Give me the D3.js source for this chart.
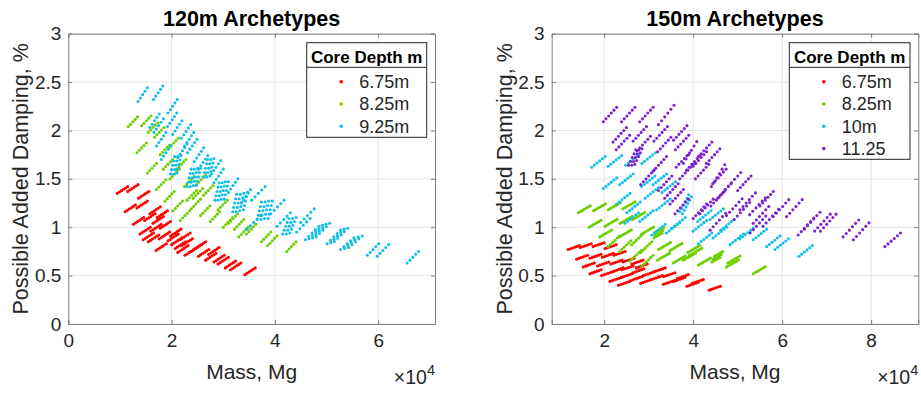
<!DOCTYPE html>
<html><head><meta charset="utf-8">
<script src="https://cdn.jsdelivr.net/npm/d3@7"></script>
<style>body{margin:0;background:#fff}svg{display:block;font-family:Arial,"Liberation Sans",sans-serif}</style>
</head><body><svg id="c" width="921" height="393"></svg>
<script>
// ---- data (mass in units of 1e4 Mg, damping in %) ; each segment = flat list x,y,x,y,...
const xTicksLeft = [0, 2, 4, 6];
const xTicksRight = [2, 4, 6, 8];
const yTicks = [0, 0.5, 1, 1.5, 2, 2.5, 3];
const legendLeft = ["6.75m", "8.25m", "9.25m"];
const legendRight = ["6.75m", "8.25m", "10m", "11.25"];
const titles = ["120m Archetypes", "150m Archetypes"];

const leftRed = [
[0.95,1.35,0.99,1.364,1.03,1.378,1.07,1.392,1.11,1.406,1.15,1.42],
[1.15,1.37,1.19,1.384,1.23,1.398,1.27,1.412,1.31,1.426,1.35,1.44],
[1.36,1.30,1.40,1.314,1.44,1.328,1.48,1.342,1.52,1.356,1.56,1.37],
[1.10,1.16,1.14,1.174,1.18,1.188,1.22,1.202,1.26,1.216,1.30,1.23],
[1.33,1.20,1.37,1.214,1.41,1.228,1.45,1.242,1.49,1.256,1.53,1.27],
[1.58,1.14,1.62,1.154,1.66,1.168,1.70,1.182,1.74,1.196,1.78,1.21],
[1.26,1.03,1.30,1.044,1.34,1.058,1.38,1.072,1.42,1.086,1.46,1.10],
[1.48,1.07,1.52,1.084,1.56,1.098,1.60,1.112,1.64,1.126,1.68,1.14],
[1.64,1.04,1.68,1.054,1.72,1.068,1.76,1.082,1.80,1.096,1.84,1.11],
[1.39,0.93,1.43,0.944,1.47,0.958,1.51,0.972,1.55,0.986,1.59,1.00],
[1.60,0.96,1.64,0.974,1.68,0.988,1.72,1.002,1.76,1.016,1.80,1.03],
[1.78,0.99,1.82,1.004,1.86,1.018,1.90,1.032,1.94,1.046,1.98,1.06],
[1.55,0.85,1.59,0.864,1.63,0.878,1.67,0.892,1.71,0.906,1.75,0.92],
[1.76,0.88,1.80,0.894,1.84,0.908,1.88,0.922,1.92,0.936,1.96,0.95],
[1.93,0.86,1.97,0.874,2.01,0.888,2.05,0.902,2.09,0.916,2.13,0.93],
[1.98,0.91,2.02,0.924,2.06,0.938,2.10,0.952,2.14,0.966,2.18,0.98],
[1.70,0.76,1.74,0.774,1.78,0.788,1.82,0.802,1.86,0.816,1.90,0.83],
[2.07,0.78,2.11,0.794,2.15,0.808,2.19,0.822,2.23,0.836,2.27,0.85],
[2.20,0.81,2.24,0.824,2.28,0.838,2.32,0.852,2.36,0.866,2.40,0.88],
[2.26,0.71,2.30,0.724,2.34,0.738,2.38,0.752,2.42,0.766,2.46,0.78],
[2.38,0.75,2.42,0.764,2.46,0.778,2.50,0.792,2.54,0.806,2.58,0.82],
[2.52,0.70,2.56,0.714,2.60,0.728,2.64,0.742,2.68,0.756,2.72,0.77],
[2.66,0.66,2.70,0.674,2.74,0.688,2.78,0.702,2.82,0.716,2.86,0.73],
[2.82,0.64,2.86,0.654,2.90,0.668,2.94,0.682,2.98,0.696,3.02,0.71],
[3.04,0.58,3.08,0.594,3.12,0.608,3.16,0.622,3.20,0.636,3.24,0.65],
[3.14,0.56,3.18,0.574,3.22,0.588,3.26,0.602,3.30,0.616,3.34,0.63],
[3.42,0.51,3.46,0.524,3.50,0.538,3.54,0.552,3.58,0.566,3.62,0.58],
[1.72,1.10,1.76,1.114,1.80,1.128,1.84,1.142,1.88,1.156,1.92,1.17],
[2.00,0.82,2.04,0.834,2.08,0.848,2.12,0.862,2.16,0.876,2.20,0.89],
[2.12,0.74,2.16,0.754,2.20,0.768,2.24,0.782,2.28,0.796,2.32,0.81],
[2.46,0.78,2.50,0.794,2.54,0.808,2.58,0.822,2.62,0.836,2.66,0.85],
[2.72,0.72,2.76,0.734,2.80,0.748,2.84,0.762,2.88,0.776,2.92,0.79],
[2.90,0.62,2.94,0.634,2.98,0.648,3.02,0.662,3.06,0.676,3.10,0.69],
[2.16,0.87,2.20,0.884,2.24,0.898,2.28,0.912,2.32,0.926,2.36,0.94],
[1.45,0.87,1.49,0.884,1.53,0.898,1.57,0.912,1.61,0.926,1.65,0.94]
];

const leftGreen = [
[1.16,2.04,1.205,2.065,1.25,2.09,1.295,2.115,1.34,2.14],
[1.42,2.05,1.465,2.075,1.51,2.1,1.555,2.125,1.6,2.15],
[1.33,1.77,1.375,1.795,1.42,1.82,1.465,1.845,1.51,1.87],
[1.53,1.56,1.575,1.585,1.62,1.61,1.665,1.635,1.71,1.66],
[1.71,1.39,1.755,1.415,1.8,1.44,1.845,1.465,1.89,1.49],
[1.67,1.93,1.715,1.955,1.76,1.98,1.805,2.005,1.85,2.03],
[1.78,1.75,1.825,1.775,1.87,1.8,1.915,1.825,1.96,1.85],
[1.87,1.27,1.915,1.295,1.96,1.32,2.005,1.345,2.05,1.37],
[1.97,1.5,2.015,1.525,2.06,1.55,2.105,1.575,2.15,1.6],
[2.03,1.17,2.075,1.195,2.12,1.22,2.165,1.245,2.21,1.27],
[2.17,1.07,2.215,1.095,2.26,1.12,2.305,1.145,2.35,1.17],
[2.1,1.6,2.145,1.625,2.19,1.65,2.235,1.675,2.28,1.7],
[2.25,1.42,2.295,1.445,2.34,1.47,2.385,1.495,2.43,1.52],
[2.42,1.3,2.465,1.325,2.51,1.35,2.555,1.375,2.6,1.4],
[2.38,1.19,2.425,1.215,2.47,1.24,2.515,1.265,2.56,1.29],
[2.56,1.12,2.605,1.145,2.65,1.17,2.695,1.195,2.74,1.22],
[2.75,1.06,2.795,1.085,2.84,1.11,2.885,1.135,2.93,1.16],
[2.62,1.33,2.665,1.355,2.71,1.38,2.755,1.405,2.8,1.43],
[2.9,1.18,2.945,1.205,2.99,1.23,3.035,1.255,3.08,1.28],
[3,1,3.045,1.025,3.09,1.05,3.135,1.075,3.18,1.1],
[3.1,1.04,3.145,1.065,3.19,1.09,3.235,1.115,3.28,1.14],
[3.22,0.98,3.265,1.005,3.31,1.03,3.355,1.055,3.4,1.08],
[3.45,0.93,3.495,0.955,3.54,0.98,3.585,1.005,3.63,1.03],
[3.74,0.85,3.785,0.875,3.83,0.9,3.875,0.925,3.92,0.95],
[3.86,0.81,3.905,0.835,3.95,0.86,3.995,0.885,4.04,0.91],
[4.23,0.75,4.275,0.775,4.32,0.8,4.365,0.825,4.41,0.85],
[1.55,1.98,1.595,2.005,1.64,2.03,1.685,2.055,1.73,2.08],
[1.84,1.6,1.885,1.625,1.93,1.65,1.975,1.675,2.02,1.7],
[2.3,1.28,2.345,1.305,2.39,1.33,2.435,1.355,2.48,1.38],
[3.3,0.9,3.345,0.925,3.39,0.95,3.435,0.975,3.48,1],
[2.48,1.44,2.525,1.465,2.57,1.49,2.615,1.515,2.66,1.54],
[1.95,1.82,1.995,1.845,2.04,1.87,2.085,1.895,2.13,1.92]
];

const leftCyan = [
[1.35,2.3,1.395,2.335,1.44,2.37,1.485,2.405,1.53,2.44],
[1.65,2.32,1.695,2.355,1.74,2.39,1.785,2.425,1.83,2.46],
[1.58,2.03,1.625,2.065,1.67,2.1,1.715,2.135,1.76,2.17],
[1.66,1.98,1.705,2.015,1.75,2.05,1.795,2.085,1.84,2.12],
[1.93,2.18,1.975,2.215,2.02,2.25,2.065,2.285,2.11,2.32],
[1.92,2.04,1.965,2.075,2.01,2.11,2.055,2.145,2.1,2.18],
[2.02,1.96,2.065,1.995,2.11,2.03,2.155,2.065,2.2,2.1],
[1.71,1.84,1.755,1.875,1.8,1.91,1.845,1.945,1.89,1.98],
[2.19,1.92,2.235,1.955,2.28,1.99,2.325,2.025,2.37,2.06],
[2.25,1.84,2.295,1.875,2.34,1.91,2.385,1.945,2.43,1.98],
[2.31,1.77,2.355,1.805,2.4,1.84,2.445,1.875,2.49,1.91],
[1.8,1.7,1.845,1.735,1.89,1.77,1.935,1.805,1.98,1.84],
[2.44,1.68,2.485,1.715,2.53,1.75,2.575,1.785,2.62,1.82],
[2.52,1.6,2.565,1.635,2.61,1.67,2.655,1.705,2.7,1.74],
[2.77,1.55,2.815,1.585,2.86,1.62,2.905,1.655,2.95,1.69],
[2.82,1.46,2.865,1.495,2.91,1.53,2.955,1.565,3,1.6],
[3.1,1.36,3.145,1.395,3.19,1.43,3.235,1.465,3.28,1.5],
[3.35,1.25,3.395,1.285,3.44,1.32,3.485,1.355,3.53,1.39],
[2.12,1.72,2.165,1.755,2.21,1.79,2.255,1.825,2.3,1.86],
[1.98,1.55,2,1.595,2.02,1.64,2.04,1.685,2.06,1.73],
[2.04,1.55,2.06,1.595,2.08,1.64,2.1,1.685,2.12,1.73],
[2.1,1.56,2.12,1.605,2.14,1.65,2.16,1.695,2.18,1.74],
[2.3,1.42,2.32,1.465,2.34,1.51,2.36,1.555,2.38,1.6],
[2.36,1.42,2.38,1.465,2.4,1.51,2.42,1.555,2.44,1.6],
[2.42,1.43,2.44,1.475,2.46,1.52,2.48,1.565,2.5,1.61],
[2.48,1.43,2.5,1.475,2.52,1.52,2.54,1.565,2.56,1.61],
[2.62,1.52,2.64,1.565,2.66,1.61,2.68,1.655,2.7,1.7],
[2.68,1.52,2.7,1.565,2.72,1.61,2.74,1.655,2.76,1.7],
[2.74,1.53,2.76,1.575,2.78,1.62,2.8,1.665,2.82,1.71],
[2.84,1.28,2.86,1.325,2.88,1.37,2.9,1.415,2.92,1.46],
[2.9,1.28,2.92,1.325,2.94,1.37,2.96,1.415,2.98,1.46],
[2.96,1.29,2.98,1.335,3,1.38,3.02,1.425,3.04,1.47],
[3.02,1.29,3.04,1.335,3.06,1.38,3.08,1.425,3.1,1.47],
[3.18,1.16,3.2,1.205,3.22,1.25,3.24,1.295,3.26,1.34],
[3.25,1.16,3.27,1.205,3.29,1.25,3.31,1.295,3.33,1.34],
[3.32,1.17,3.34,1.215,3.36,1.26,3.38,1.305,3.4,1.35],
[3.39,1.18,3.41,1.225,3.43,1.27,3.45,1.315,3.47,1.36],
[3.66,1.08,3.68,1.125,3.7,1.17,3.72,1.215,3.74,1.26],
[3.73,1.08,3.75,1.125,3.77,1.17,3.79,1.215,3.81,1.26],
[3.8,1.09,3.82,1.135,3.84,1.18,3.86,1.225,3.88,1.27],
[3.87,1.09,3.89,1.135,3.91,1.18,3.93,1.225,3.95,1.27],
[4.15,0.93,4.18,0.97,4.21,1.01,4.24,1.05,4.27,1.09],
[4.22,0.93,4.25,0.97,4.28,1.01,4.31,1.05,4.34,1.09],
[4.29,0.94,4.32,0.98,4.35,1.02,4.38,1.06,4.41,1.1],
[3.46,0.98,3.525,1.015,3.59,1.05,3.655,1.085,3.72,1.12],
[4.04,1.01,4.105,1.045,4.17,1.08,4.235,1.115,4.3,1.15],
[4.42,0.95,4.485,0.985,4.55,1.02,4.615,1.055,4.68,1.09],
[4.59,0.87,4.655,0.905,4.72,0.94,4.785,0.975,4.85,1.01],
[4.66,0.88,4.725,0.915,4.79,0.95,4.855,0.985,4.92,1.02],
[4.73,0.89,4.795,0.925,4.86,0.96,4.925,0.995,4.99,1.03],
[4.8,0.9,4.865,0.935,4.93,0.97,4.995,1.005,5.06,1.04],
[5.01,0.83,5.075,0.865,5.14,0.9,5.205,0.935,5.27,0.97],
[5.08,0.84,5.145,0.875,5.21,0.91,5.275,0.945,5.34,0.98],
[5.15,0.85,5.215,0.885,5.28,0.92,5.345,0.955,5.41,0.99],
[5.27,0.77,5.335,0.8,5.4,0.83,5.465,0.86,5.53,0.89],
[5.35,0.78,5.415,0.81,5.48,0.84,5.545,0.87,5.61,0.9],
[5.43,0.79,5.495,0.82,5.56,0.85,5.625,0.88,5.69,0.91],
[5.79,0.71,5.845,0.74,5.9,0.77,5.955,0.8,6.01,0.83],
[5.98,0.7,6.035,0.73,6.09,0.76,6.145,0.79,6.2,0.82],
[6.56,0.63,6.615,0.66,6.67,0.69,6.725,0.72,6.78,0.75],
[3.55,1.28,3.615,1.315,3.68,1.35,3.745,1.385,3.81,1.42],
[3.92,1.14,3.985,1.175,4.05,1.21,4.115,1.245,4.18,1.28],
[4.5,1.05,4.565,1.085,4.63,1.12,4.695,1.155,4.76,1.19]
];

const rightRed = [
[1.19,0.77,1.24,0.778,1.29,0.786,1.34,0.794,1.39,0.802,1.44,0.81],
[1.46,0.79,1.51,0.798,1.56,0.806,1.61,0.814,1.66,0.822,1.71,0.83],
[1.75,0.8,1.8,0.808,1.85,0.816,1.9,0.824,1.95,0.832,2,0.84],
[2.02,0.78,2.07,0.788,2.12,0.796,2.17,0.804,2.22,0.812,2.27,0.82],
[1.38,0.67,1.43,0.678,1.48,0.686,1.53,0.694,1.58,0.702,1.63,0.71],
[1.68,0.68,1.73,0.688,1.78,0.696,1.83,0.704,1.88,0.712,1.93,0.72],
[1.96,0.69,2.01,0.698,2.06,0.706,2.11,0.714,2.16,0.722,2.21,0.73],
[2.22,0.71,2.27,0.718,2.32,0.726,2.37,0.734,2.42,0.742,2.47,0.75],
[1.53,0.59,1.58,0.598,1.63,0.606,1.68,0.614,1.73,0.622,1.78,0.63],
[1.85,0.6,1.9,0.608,1.95,0.616,2,0.624,2.05,0.632,2.1,0.64],
[2.15,0.62,2.2,0.628,2.25,0.636,2.3,0.644,2.35,0.652,2.4,0.66],
[2.42,0.64,2.47,0.648,2.52,0.656,2.57,0.664,2.62,0.672,2.67,0.68],
[1.68,0.52,1.73,0.528,1.78,0.536,1.83,0.544,1.88,0.552,1.93,0.56],
[1.94,0.5,1.99,0.508,2.04,0.516,2.09,0.524,2.14,0.532,2.19,0.54],
[2.18,0.54,2.23,0.548,2.28,0.556,2.33,0.564,2.38,0.572,2.43,0.58],
[2.4,0.56,2.45,0.568,2.5,0.576,2.55,0.584,2.6,0.592,2.65,0.6],
[2.13,0.44,2.18,0.448,2.23,0.456,2.28,0.464,2.33,0.472,2.38,0.48],
[2.38,0.48,2.43,0.488,2.48,0.496,2.53,0.504,2.58,0.512,2.63,0.52],
[2.64,0.53,2.69,0.538,2.74,0.546,2.79,0.554,2.84,0.562,2.89,0.57],
[2.6,0.45,2.65,0.458,2.7,0.466,2.75,0.474,2.8,0.482,2.85,0.49],
[2.32,0.4,2.37,0.408,2.42,0.416,2.47,0.424,2.52,0.432,2.57,0.44],
[2.82,0.42,2.87,0.428,2.92,0.436,2.97,0.444,3.02,0.452,3.07,0.46],
[2.88,0.5,2.93,0.508,2.98,0.516,3.03,0.524,3.08,0.532,3.13,0.54],
[3.06,0.46,3.11,0.468,3.16,0.476,3.21,0.484,3.26,0.492,3.31,0.5],
[3.12,0.54,3.17,0.548,3.22,0.556,3.27,0.564,3.32,0.572,3.37,0.58],
[3.33,0.41,3.38,0.418,3.43,0.426,3.48,0.434,3.53,0.442,3.58,0.45],
[3.34,0.49,3.39,0.498,3.44,0.506,3.49,0.514,3.54,0.522,3.59,0.53],
[3.56,0.44,3.61,0.448,3.66,0.456,3.71,0.464,3.76,0.472,3.81,0.48],
[3.64,0.47,3.69,0.478,3.74,0.486,3.79,0.494,3.84,0.502,3.89,0.51],
[3.86,0.39,3.91,0.398,3.96,0.406,4.01,0.414,4.06,0.422,4.11,0.43],
[3.98,0.42,4.03,0.428,4.08,0.436,4.13,0.444,4.18,0.452,4.23,0.46],
[4.36,0.35,4.41,0.358,4.46,0.366,4.51,0.374,4.56,0.382,4.61,0.39],
[2.62,0.62,2.67,0.628,2.72,0.636,2.77,0.644,2.82,0.652,2.87,0.66],
[2.72,0.58,2.77,0.588,2.82,0.596,2.87,0.604,2.92,0.612,2.97,0.62]
];

const rightGreen = [
[1.42,1.15,1.465,1.162,1.51,1.174,1.555,1.186,1.6,1.198,1.645,1.21,1.69,1.222],
[1.76,1.17,1.805,1.182,1.85,1.194,1.895,1.206,1.94,1.218,1.985,1.23,2.03,1.242],
[2.09,1.18,2.135,1.192,2.18,1.204,2.225,1.216,2.27,1.228,2.315,1.24,2.36,1.252],
[2.42,1.19,2.465,1.202,2.51,1.214,2.555,1.226,2.6,1.238,2.645,1.25,2.69,1.262],
[1.66,1,1.705,1.012,1.75,1.024,1.795,1.036,1.84,1.048,1.885,1.06,1.93,1.072],
[2.02,1.01,2.065,1.022,2.11,1.034,2.155,1.046,2.2,1.058,2.245,1.07,2.29,1.082],
[2.36,1.04,2.405,1.052,2.45,1.064,2.495,1.076,2.54,1.088,2.585,1.1,2.63,1.112],
[2.64,1.08,2.685,1.092,2.73,1.104,2.775,1.116,2.82,1.128,2.865,1.14,2.91,1.152],
[1.9,0.9,1.945,0.912,1.99,0.924,2.035,0.936,2.08,0.948,2.125,0.96,2.17,0.972],
[2.34,0.9,2.385,0.912,2.43,0.924,2.475,0.936,2.52,0.948,2.565,0.96,2.61,0.972],
[2.84,0.93,2.885,0.942,2.93,0.954,2.975,0.966,3.02,0.978,3.065,0.99,3.11,1.002],
[3.12,0.89,3.165,0.902,3.21,0.914,3.255,0.926,3.3,0.938],
[3.14,0.92,3.185,0.932,3.23,0.944,3.275,0.956,3.32,0.968],
[3.16,0.95,3.205,0.962,3.25,0.974,3.295,0.986,3.34,0.998],
[2.09,0.8,2.14,0.822,2.19,0.844,2.24,0.866,2.29,0.888,2.34,0.91],
[2.35,0.75,2.4,0.772,2.45,0.794,2.5,0.816,2.55,0.838,2.6,0.86],
[2.62,0.82,2.67,0.842,2.72,0.864,2.77,0.886,2.82,0.908,2.87,0.93],
[2.58,0.65,2.63,0.672,2.68,0.694,2.73,0.716,2.78,0.738,2.83,0.76],
[2.82,0.74,2.87,0.762,2.92,0.784,2.97,0.806,3.02,0.828,3.07,0.85],
[2.85,0.6,2.9,0.622,2.95,0.644,3,0.666,3.05,0.688,3.1,0.71],
[3.2,0.66,3.245,0.672,3.29,0.684,3.335,0.696,3.38,0.708,3.425,0.72,3.47,0.732],
[3.48,0.76,3.525,0.772,3.57,0.784,3.615,0.796,3.66,0.808,3.705,0.82,3.75,0.832],
[3.22,0.77,3.265,0.782,3.31,0.794,3.355,0.806,3.4,0.818,3.445,0.83,3.49,0.842],
[3.78,0.66,3.825,0.672,3.87,0.684,3.915,0.696,3.96,0.708,4.005,0.72,4.05,0.732],
[3.88,0.74,3.925,0.752,3.97,0.764,4.015,0.776,4.06,0.788,4.105,0.8,4.15,0.812],
[3.92,0.71,3.965,0.722,4.01,0.734,4.055,0.746,4.1,0.758,4.145,0.77,4.19,0.782],
[4.12,0.61,4.165,0.622,4.21,0.634,4.255,0.646,4.3,0.658,4.345,0.67,4.39,0.682],
[4.42,0.64,4.465,0.652,4.51,0.664,4.555,0.676,4.6,0.688],
[4.45,0.67,4.495,0.682,4.54,0.694,4.585,0.706,4.63,0.718],
[4.48,0.7,4.525,0.712,4.57,0.724,4.615,0.736,4.66,0.748],
[4.75,0.59,4.795,0.602,4.84,0.614,4.885,0.626,4.93,0.638,4.975,0.65,5.02,0.662],
[4.78,0.63,4.825,0.642,4.87,0.654,4.915,0.666,4.96,0.678,5.005,0.69,5.05,0.702],
[5.35,0.52,5.395,0.532,5.44,0.544,5.485,0.556,5.53,0.568,5.575,0.58,5.62,0.592],
[3.55,0.63,3.595,0.642,3.64,0.654,3.685,0.666,3.73,0.678,3.775,0.69,3.82,0.702]
];

const rightCyan = [
[1.72,1.62,1.78,1.642,1.84,1.664,1.9,1.686,1.96,1.708,2.02,1.73],
[2.09,1.63,2.15,1.652,2.21,1.674,2.27,1.696,2.33,1.718,2.39,1.74],
[2.48,1.64,2.54,1.662,2.6,1.684,2.66,1.706,2.72,1.728,2.78,1.75],
[2.85,1.66,2.91,1.682,2.97,1.704,3.03,1.726,3.09,1.748,3.15,1.77],
[1.98,1.4,2.04,1.422,2.1,1.444,2.16,1.466,2.22,1.488,2.28,1.51],
[2.35,1.44,2.41,1.462,2.47,1.484,2.53,1.506,2.59,1.528,2.65,1.55],
[2.84,1.42,2.9,1.442,2.96,1.464,3.02,1.486,3.08,1.508,3.14,1.53],
[2.28,1.24,2.34,1.262,2.4,1.284,2.46,1.306,2.52,1.328,2.58,1.35],
[2.51,1.15,2.57,1.172,2.63,1.194,2.69,1.216,2.75,1.238,2.81,1.26],
[2.47,1.04,2.53,1.062,2.59,1.084,2.65,1.106,2.71,1.128,2.77,1.15],
[2.8,1.06,2.86,1.082,2.92,1.104,2.98,1.126,3.04,1.148,3.1,1.17],
[2.92,1.3,2.98,1.322,3.04,1.344,3.1,1.366,3.16,1.388,3.22,1.41],
[3.1,1.44,3.16,1.462,3.22,1.484,3.28,1.506,3.34,1.528,3.4,1.55],
[3.07,0.92,3.13,0.942,3.19,0.964,3.25,0.986,3.31,1.008,3.37,1.03],
[3.18,1.18,3.24,1.202,3.3,1.224,3.36,1.246,3.42,1.268,3.48,1.29],
[3.4,0.94,3.46,0.962,3.52,0.984,3.58,1.006,3.64,1.028,3.7,1.05],
[3.52,0.99,3.58,1.012,3.64,1.034,3.7,1.056,3.76,1.078,3.82,1.1],
[3.7,1.16,3.74,1.195,3.78,1.23,3.82,1.265,3.86,1.3,3.9,1.335],
[3.76,1.14,3.8,1.175,3.84,1.21,3.88,1.245,3.92,1.28,3.96,1.315],
[4,0.96,4.06,0.982,4.12,1.004,4.18,1.026,4.24,1.048,4.3,1.07],
[4.1,1.06,4.16,1.082,4.22,1.104,4.28,1.126,4.34,1.148,4.4,1.17],
[4.12,0.83,4.18,0.852,4.24,0.874,4.3,0.896,4.36,0.918,4.42,0.94],
[4.45,0.89,4.51,0.912,4.57,0.934,4.63,0.956,4.69,0.978,4.75,1],
[4.62,0.97,4.68,0.992,4.74,1.014,4.8,1.036,4.86,1.058,4.92,1.08],
[4.83,0.82,4.89,0.842,4.95,0.864,5.01,0.886,5.07,0.908,5.13,0.93],
[5.05,0.88,5.11,0.902,5.17,0.924,5.23,0.946,5.29,0.968,5.35,0.99],
[5.35,0.87,5.41,0.892,5.47,0.914,5.53,0.936,5.59,0.958,5.65,0.98],
[5.65,0.8,5.71,0.822,5.77,0.844,5.83,0.866,5.89,0.888,5.95,0.91],
[5.84,0.77,5.9,0.792,5.96,0.814,6.02,0.836,6.08,0.858,6.14,0.88],
[6.38,0.7,6.44,0.722,6.5,0.744,6.56,0.766,6.62,0.788,6.68,0.81],
[3.3,1.36,3.36,1.382,3.42,1.404,3.48,1.426,3.54,1.448,3.6,1.47],
[4.38,1.08,4.44,1.102,4.5,1.124,4.56,1.146,4.62,1.168,4.68,1.19]
];

const rightPurple = [
[1.98,2.09,2.04,2.12,2.1,2.15,2.16,2.18,2.22,2.21,2.28,2.24],
[2.39,2.09,2.45,2.12,2.51,2.15,2.57,2.18,2.63,2.21,2.69,2.24],
[2.8,2.09,2.86,2.12,2.92,2.15,2.98,2.18,3.04,2.21,3.1,2.24],
[3.22,2.06,3.29,2.1,3.36,2.14,3.43,2.18,3.5,2.22,3.57,2.26],
[2.2,1.88,2.26,1.91,2.32,1.94,2.38,1.97,2.44,2,2.5,2.03],
[2.27,1.8,2.33,1.83,2.39,1.86,2.45,1.89,2.51,1.92,2.57,1.95],
[2.65,1.89,2.71,1.92,2.77,1.95,2.83,1.98,2.89,2.01,2.95,2.04],
[2.74,1.79,2.8,1.82,2.86,1.85,2.92,1.88,2.98,1.91,3.04,1.94],
[3.12,1.89,3.18,1.92,3.24,1.95,3.3,1.98,3.36,2.01,3.42,2.04],
[3.2,1.78,3.26,1.81,3.32,1.84,3.38,1.87,3.44,1.9,3.5,1.93],
[3.56,1.9,3.62,1.93,3.68,1.96,3.74,1.99,3.8,2.02,3.86,2.05],
[3.6,1.8,3.66,1.83,3.72,1.86,3.78,1.89,3.84,1.92,3.9,1.95],
[2.55,1.64,2.59,1.68,2.63,1.72,2.67,1.76,2.71,1.8],
[2.62,1.64,2.66,1.68,2.7,1.72,2.74,1.76,2.78,1.8],
[2.69,1.65,2.73,1.69,2.77,1.73,2.81,1.77,2.85,1.81],
[2.82,1.44,2.88,1.47,2.94,1.5,3,1.53,3.06,1.56,3.12,1.59],
[3.1,1.58,3.16,1.61,3.22,1.64,3.28,1.67,3.34,1.7,3.4,1.73],
[3.22,1.38,3.28,1.41,3.34,1.44,3.4,1.47,3.46,1.5,3.52,1.53],
[3.48,1.24,3.54,1.27,3.6,1.3,3.66,1.33,3.72,1.36,3.78,1.39],
[3.62,1.62,3.68,1.65,3.74,1.68,3.8,1.71,3.86,1.74,3.92,1.77],
[3.7,1.5,3.76,1.53,3.82,1.56,3.88,1.59,3.94,1.62,4,1.65],
[4,1.63,4.06,1.66,4.12,1.69,4.18,1.72,4.24,1.75,4.3,1.78],
[4.12,1.73,4.18,1.76,4.24,1.79,4.3,1.82,4.36,1.85,4.42,1.88],
[4.05,1.5,4.11,1.53,4.17,1.56,4.23,1.59,4.29,1.62,4.35,1.65],
[4.44,1.45,4.5,1.48,4.56,1.51,4.62,1.54,4.68,1.57,4.74,1.6],
[4.72,1.39,4.79,1.425,4.86,1.46,4.93,1.495,5,1.53,5.07,1.565],
[3.59,1.14,3.65,1.17,3.71,1.2,3.77,1.23,3.83,1.26,3.89,1.29],
[4,1.09,4.06,1.12,4.12,1.15,4.18,1.18,4.24,1.21,4.3,1.24],
[4.38,0.97,4.45,1.005,4.52,1.04,4.59,1.075,4.66,1.11,4.73,1.145],
[4.15,1.14,4.21,1.17,4.27,1.2,4.33,1.23,4.39,1.26,4.45,1.29],
[4.75,1.12,4.82,1.155,4.89,1.19,4.96,1.225,5.03,1.26,5.1,1.295],
[4.92,1.08,4.99,1.115,5.06,1.15,5.13,1.185,5.2,1.22,5.27,1.255],
[5.05,1.18,5.12,1.215,5.19,1.25,5.26,1.285,5.33,1.32,5.4,1.355],
[5.27,1.13,5.34,1.165,5.41,1.2,5.48,1.235,5.55,1.27,5.62,1.305],
[5.35,1.04,5.42,1.075,5.49,1.11,5.56,1.145,5.63,1.18,5.7,1.215],
[5.28,0.94,5.35,0.975,5.42,1.01,5.49,1.045,5.56,1.08,5.63,1.115],
[5.57,1.01,5.64,1.045,5.71,1.08,5.78,1.115,5.85,1.15,5.92,1.185],
[5.8,1.11,5.87,1.145,5.94,1.18,6.01,1.215,6.08,1.25,6.15,1.285],
[6.1,1.11,6.17,1.145,6.24,1.18,6.31,1.215,6.38,1.25,6.45,1.285],
[6.36,0.92,6.43,0.955,6.5,0.99,6.57,1.025,6.64,1.06,6.71,1.095],
[6.5,0.98,6.57,1.015,6.64,1.05,6.71,1.085,6.78,1.12,6.85,1.155],
[6.73,0.96,6.8,0.995,6.87,1.03,6.94,1.065,7.01,1.1,7.08,1.135],
[6.86,0.96,6.93,0.995,7,1.03,7.07,1.065,7.14,1.1,7.21,1.135],
[7.37,0.9,7.44,0.935,7.51,0.97,7.58,1.005,7.65,1.04,7.72,1.075],
[7.6,0.87,7.67,0.905,7.74,0.94,7.81,0.975,7.88,1.01,7.95,1.045],
[8.31,0.8,8.38,0.828,8.45,0.856,8.52,0.884,8.59,0.912,8.66,0.94],
[3.85,1.59,3.91,1.62,3.97,1.65,4.03,1.68,4.09,1.71,4.15,1.74],
[4.3,1.66,4.36,1.69,4.42,1.72,4.48,1.75,4.54,1.78,4.6,1.81],
[4.41,1.42,4.47,1.465,4.53,1.51,4.59,1.555,4.65,1.6,4.71,1.645],
[3.78,1.66,3.84,1.705,3.9,1.75,3.96,1.795,4.02,1.84,4.08,1.885],
[3.36,1.3,3.42,1.33,3.48,1.36,3.54,1.39,3.6,1.42,3.66,1.45],
[4.4,1.22,4.46,1.25,4.52,1.28,4.58,1.31,4.64,1.34,4.7,1.37],
[4.55,1.3,4.61,1.33,4.67,1.36,4.73,1.39,4.79,1.42,4.85,1.45],
[5,1.38,5.06,1.41,5.12,1.44,5.18,1.47,5.24,1.5,5.3,1.53],
[5.5,1.22,5.56,1.25,5.62,1.28,5.68,1.31,5.74,1.34,5.8,1.37]
];

// ---- colours
const colors = {red:"#ff0000", green:"#6dcf00", cyan:"#12bfe9", purple:"#7b22d2"};

const svg = d3.select("#c");
const txt = "#262626";
const FONT = "Arial, 'Liberation Sans', sans-serif";
const yScale = d3.scaleLinear().domain([0, 3]).range([324, 33.7]);

function toPts(segs){ const out=[]; segs.forEach(s=>{ for(let i=0;i<s.length;i+=2) out.push([s[i], s[i+1]]); }); return out; }

function panel(cfg){
  const x = cfg.x, g = svg.append("g");
  const [L,R] = x.range(), T = 33.7, B = 324;
  // grid
  g.selectAll(".gx").data(cfg.xTicks).join("line").attr("x1",d=>x(d)).attr("x2",d=>x(d)).attr("y1",T).attr("y2",B).attr("stroke","#e3e3e3").attr("stroke-width",1);
  g.selectAll(".gy").data(yTicks).join("line").attr("x1",L).attr("x2",R).attr("y1",d=>yScale(d)).attr("y2",d=>yScale(d)).attr("stroke","#e3e3e3").attr("stroke-width",1);
  // points
  cfg.series.forEach(s=>{
    g.append("g").selectAll("circle").data(toPts(s.data)).join("circle")
      .attr("cx",d=>x(d[0])).attr("cy",d=>yScale(d[1])).attr("r",1.55).attr("fill",s.color);
  });
  // axes (box with inward ticks)
  const axB = d3.axisBottom(x).tickValues(cfg.xTicks).tickSize(-4).tickPadding(10).tickFormat(d3.format("d"));
  const axT = d3.axisTop(x).tickValues(cfg.xTicks).tickSize(-4).tickFormat("");
  const axL = d3.axisLeft(yScale).tickValues(yTicks).tickSize(-4).tickPadding(7).tickFormat(d=>String(d));
  const axR = d3.axisRight(yScale).tickValues(yTicks).tickSize(-4).tickFormat("");
  [[axB,`translate(0,${B})`],[axT,`translate(0,${T})`],[axL,`translate(${L},0)`],[axR,`translate(${R},0)`]].forEach(([a,t])=>{
    const ag = g.append("g").attr("transform",t).call(a);
    ag.select(".domain").attr("stroke","#808080");
    ag.selectAll(".tick line").attr("stroke","#808080");
    ag.selectAll("text").attr("fill",txt).attr("font-size",19).attr("font-family",FONT);
  });
  // title
  g.append("text").attr("x",(L+R)/2).attr("y",26).attr("text-anchor","middle").attr("font-weight","bold").attr("font-size",21.5).attr("fill","#000").text(cfg.title);
  // x label
  g.append("text").attr("x",(L+R)/2).attr("y",379).attr("text-anchor","middle").attr("font-size",21).attr("fill",txt).text("Mass, Mg");
  // y label
  g.append("text").attr("transform",`translate(${L-40},${(T+B)/2}) rotate(-90)`).attr("text-anchor","middle").attr("font-size",21.5).attr("fill",txt).text("Possible Added Damping, %");
  // exponent
  const ex = g.append("text").attr("x",R).attr("y",384).attr("text-anchor","end").attr("fill",txt).attr("font-size",19.5);
  ex.append("tspan").text("\u00d710");
  ex.append("tspan").attr("font-size",14.5).attr("dy",-9).text("4");
  // legend
  const lg = cfg.legend;
  const lgG = g.append("g");
  lgG.append("rect").attr("x",lg.x).attr("y",42.7).attr("width",lg.w).attr("height",lg.h).attr("fill","#fff").attr("stroke","#262626").attr("stroke-width",1);
  lgG.append("line").attr("x1",lg.x).attr("x2",lg.x+lg.w).attr("y1",67.3).attr("y2",67.3).attr("stroke","#262626");
  lgG.append("text").attr("x",lg.x+lg.w/2).attr("y",62.5).attr("text-anchor","middle").attr("font-weight","bold").attr("font-size",17).attr("fill","#000").text("Core Depth m");
  cfg.series.forEach((s,i)=>{
    const yy = 81.7 + i*22.3;
    lgG.append("circle").attr("cx",lg.x+34.5).attr("cy",yy).attr("r",1.8).attr("fill",s.color);
    lgG.append("text").attr("x",lg.x+52.5).attr("y",yy+6.3).attr("font-size",18).attr("fill",txt).text(s.label);
  });
}

panel({
  x: d3.scaleLinear().domain([0, 7.1]).range([68.3, 435]),
  xTicks: xTicksLeft, title: titles[0],
  series: [
    {data:leftRed, color:colors.red, label:legendLeft[0]},
    {data:leftGreen, color:colors.green, label:legendLeft[1]},
    {data:leftCyan, color:colors.cyan, label:legendLeft[2]}
  ],
  legend: {x:306.7, w:120, h:94.6}
});
panel({
  x: d3.scaleLinear().domain([0.82, 9.06]).range([551.7, 918.3]),
  xTicks: xTicksRight, title: titles[1],
  series: [
    {data:rightRed, color:colors.red, label:legendRight[0]},
    {data:rightGreen, color:colors.green, label:legendRight[1]},
    {data:rightCyan, color:colors.cyan, label:legendRight[2]},
    {data:rightPurple, color:colors.purple, label:legendRight[3]}
  ],
  legend: {x:789.3, w:120.7, h:116.6}
});
</script></body></html>
